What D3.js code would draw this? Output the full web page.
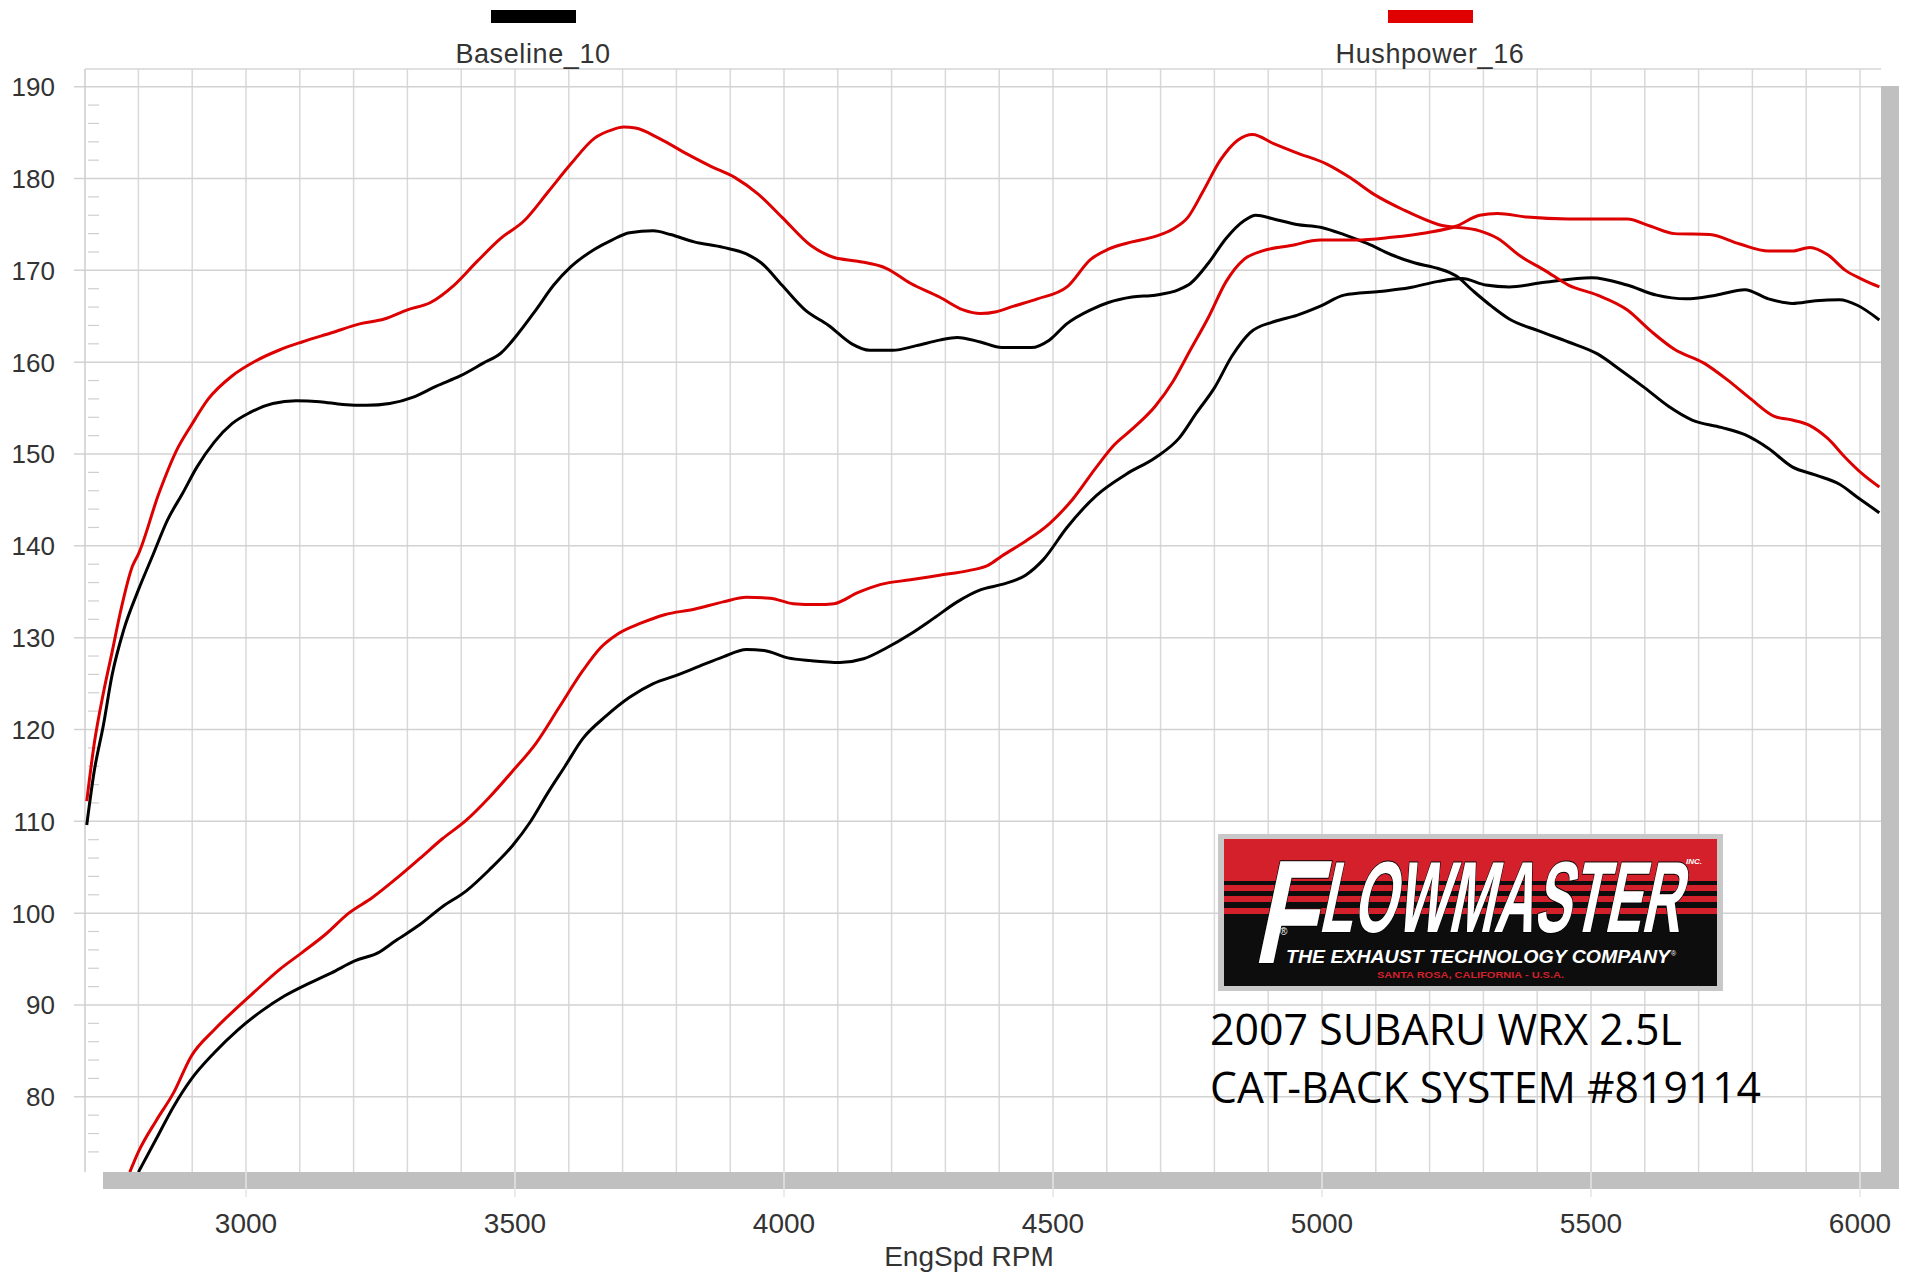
<!DOCTYPE html>
<html>
<head>
<meta charset="utf-8">
<script src="https://cdn.jsdelivr.net/npm/d3@7"></script>
<style>
  body { margin: 0; background: #fff; }
  text { font-family: "Liberation Sans", Arial, sans-serif; }
</style>
</head>
<body>
<div id="chart"></div>
<script>
// dyno sheet values [rpm, value]
var baselineTq = [[2704,109.6],[2718,115.5],[2735,120.5],[2751,125.9],[2773,130.9],[2800,135.2],[2827,139.0],[2854,142.8],[2882,145.7],[2909,148.6],[2941,151.3],[2974,153.3],[3007,154.5],[3050,155.5],[3093,155.8],[3137,155.7],[3180,155.4],[3224,155.3],[3267,155.5],[3311,156.2],[3354,157.4],[3398,158.5],[3441,159.9],[3474,161.0],[3507,163.2],[3539,165.7],[3572,168.4],[3604,170.4],[3648,172.3],[3680,173.3],[3713,174.1],[3757,174.3],[3789,173.9],[3833,173.1],[3887,172.5],[3930,171.8],[3958,170.8],[3996,168.4],[4039,165.7],[4083,164.0],[4126,162.0],[4159,161.3],[4202,161.3],[4246,161.8],[4289,162.4],[4322,162.7],[4365,162.2],[4405,161.6],[4460,161.6],[4493,162.4],[4526,164.2],[4570,165.7],[4603,166.5],[4647,167.1],[4690,167.3],[4734,167.9],[4756,168.6],[4789,170.8],[4822,173.5],[4855,175.4],[4877,176.0],[4910,175.6],[4953,175.0],[4997,174.7],[5041,173.9],[5085,172.9],[5129,171.7],[5173,170.8],[5216,170.2],[5249,169.4],[5282,167.7],[5315,166.1],[5348,164.7],[5403,163.4],[5458,162.2],[5512,160.9],[5556,159.1],[5600,157.2],[5644,155.2],[5688,153.7],[5742,152.9],[5786,152.1],[5830,150.6],[5874,148.6],[5918,147.7],[5962,146.7],[5995,145.3],[6036,143.6]];

var hushTq = [[2704,112.2],[2718,118.5],[2735,124.0],[2751,128.4],[2767,132.9],[2789,137.8],[2800,139.1],[2838,145.7],[2871,150.4],[2898,153.1],[2930,156.0],[2974,158.5],[3017,160.1],[3061,161.3],[3104,162.2],[3159,163.2],[3213,164.2],[3257,164.7],[3300,165.7],[3343,166.5],[3387,168.4],[3430,171.0],[3474,173.5],[3517,175.4],[3561,178.5],[3604,181.6],[3648,184.4],[3680,185.3],[3702,185.6],[3724,185.5],[3767,184.4],[3822,182.6],[3865,181.3],[3909,180.1],[3952,178.3],[3996,175.8],[4050,172.7],[4093,171.4],[4137,171.0],[4191,170.2],[4235,168.6],[4289,167.1],[4333,165.7],[4365,165.3],[4395,165.5],[4427,166.1],[4471,166.9],[4526,168.2],[4570,171.2],[4603,172.3],[4647,173.1],[4690,173.7],[4723,174.5],[4751,175.8],[4778,178.5],[4811,182.0],[4844,184.2],[4871,184.8],[4910,183.8],[4953,182.8],[5008,181.6],[5052,180.1],[5096,178.3],[5151,176.6],[5216,175.0],[5293,174.3],[5326,173.5],[5370,171.5],[5414,170.0],[5458,168.4],[5512,167.3],[5567,165.7],[5611,163.4],[5655,161.4],[5710,159.9],[5753,158.1],[5797,156.0],[5841,154.1],[5874,153.7],[5907,153.1],[5940,151.7],[5973,149.6],[6005,147.8],[6036,146.4]];

var baselineHp = [[2800,71.8],[2833,75.4],[2865,78.9],[2898,81.9],[2941,84.8],[2985,87.3],[3028,89.3],[3072,91.0],[3115,92.3],[3159,93.5],[3202,94.8],[3246,95.7],[3278,97.0],[3322,98.7],[3365,100.7],[3409,102.4],[3452,104.7],[3496,107.4],[3528,109.9],[3561,113.1],[3593,116.0],[3626,119.0],[3670,121.5],[3713,123.5],[3757,125.0],[3800,125.9],[3843,126.9],[3887,127.9],[3930,128.7],[3963,128.6],[4007,127.8],[4050,127.5],[4104,127.3],[4148,127.7],[4191,128.9],[4235,130.4],[4278,132.1],[4322,133.9],[4365,135.2],[4405,135.8],[4449,136.8],[4482,138.5],[4526,142.0],[4581,145.5],[4636,147.8],[4690,149.6],[4734,151.7],[4767,154.5],[4800,157.2],[4833,160.7],[4866,163.2],[4910,164.4],[4953,165.1],[4997,166.1],[5041,167.3],[5107,167.7],[5162,168.1],[5216,168.8],[5260,169.1],[5304,168.4],[5348,168.2],[5414,168.7],[5501,169.2],[5567,168.4],[5622,167.3],[5677,166.9],[5732,167.3],[5786,167.9],[5830,166.9],[5874,166.4],[5918,166.7],[5962,166.8],[5995,166.2],[6036,164.6]];

var hushHp = [[2784,71.8],[2800,74.0],[2833,77.4],[2865,80.4],[2898,84.4],[2941,87.3],[2985,89.8],[3017,91.5],[3061,93.8],[3104,95.7],[3148,97.7],[3191,100.0],[3235,101.7],[3278,103.7],[3322,105.9],[3365,108.1],[3409,110.1],[3452,112.6],[3496,115.5],[3539,118.5],[3583,122.5],[3626,126.4],[3659,128.9],[3691,130.4],[3735,131.6],[3778,132.5],[3833,133.1],[3887,133.9],[3930,134.4],[3974,134.3],[4017,133.7],[4061,133.6],[4093,133.7],[4137,134.9],[4180,135.8],[4235,136.3],[4289,136.8],[4343,137.3],[4380,137.9],[4405,138.9],[4449,140.5],[4493,142.4],[4537,145.1],[4581,148.6],[4614,151.0],[4647,152.7],[4690,155.2],[4723,157.9],[4756,161.4],[4789,164.9],[4822,168.8],[4855,171.2],[4888,172.1],[4942,172.7],[4997,173.3],[5063,173.3],[5129,173.6],[5195,174.1],[5249,174.8],[5293,176.0],[5326,176.2],[5381,175.8],[5458,175.6],[5567,175.6],[5611,174.8],[5655,174.0],[5721,173.9],[5775,172.9],[5830,172.1],[5874,172.1],[5907,172.5],[5940,171.7],[5973,170.0],[6005,169.0],[6036,168.2]];

var legendNames = ["Baseline_10", "Hushpower_16"];
var xTickValues = [3000, 3500, 4000, 4500, 5000, 5500, 6000];
var yTickValues = [80, 90, 100, 110, 120, 130, 140, 150, 160, 170, 180, 190];
var subtitleLines = ["2007 SUBARU WRX 2.5L", "CAT-BACK SYSTEM #819114"];

var W = 1906, H = 1274;
var plotL = 85, plotT = 69, plotR = 1881, plotB = 1172;
var shadowDx = 18, shadowDy = 17;

var svg = d3.select("#chart")
  .append("svg")
  .attr("width", W)
  .attr("height", H)
  .style("display", "block");

svg.append("rect").attr("width", W).attr("height", H).attr("fill", "#fff");

var x = d3.scaleLinear().domain([3000, 6000]).range([246, 1860]);
var y = d3.scaleLinear().domain([80, 190]).range([1096.8, 86.7]);

// grey drop shadow behind the plot box
svg.append("rect")
  .attr("x", plotL + shadowDx).attr("y", plotT + shadowDy)
  .attr("width", plotR - plotL).attr("height", plotB - plotT)
  .attr("fill", "#c0c0c0");
svg.append("rect")
  .attr("x", plotL).attr("y", plotT)
  .attr("width", plotR - plotL).attr("height", plotB - plotT)
  .attr("fill", "#fff");

// vertical grid every 100 rpm
var vGrid = d3.range(2800, 6001, 100);
svg.append("g").selectAll("line")
  .data(vGrid)
  .enter()
  .append("line")
  .attr("x1", function(d){ return x(d); })
  .attr("x2", function(d){ return x(d); })
  .attr("y1", plotT)
  .attr("y2", plotB)
  .attr("stroke", "#d9d9d9")
  .attr("stroke-width", 1.5);

// major rpm lines run through the shadow bar
svg.append("g").selectAll("line")
  .data(xTickValues)
  .enter()
  .append("line")
  .attr("x1", function(d){ return x(d); })
  .attr("x2", function(d){ return x(d); })
  .attr("y1", plotB)
  .attr("y2", plotB + shadowDy + 8)
  .attr("stroke", "#e4e4e4")
  .attr("stroke-width", 1.5);

// horizontal grid
svg.append("g").selectAll("line")
  .data(yTickValues)
  .enter()
  .append("line")
  .attr("x1", 74)
  .attr("x2", plotR)
  .attr("y1", function(d){ return y(d); })
  .attr("y2", function(d){ return y(d); })
  .attr("stroke", "#d2d2d2")
  .attr("stroke-width", 1.5);

// minor ticks on the left
var minor = d3.range(74, 190, 2).filter(function(d){ return d % 10 != 0; });
svg.append("g").selectAll("line")
  .data(minor)
  .enter()
  .append("line")
  .attr("x1", plotL + 3)
  .attr("x2", plotL + 14)
  .attr("y1", function(d){ return y(d); })
  .attr("y2", function(d){ return y(d); })
  .attr("stroke", "#cfcfcf")
  .attr("stroke-width", 1.2);

// box edges
svg.append("line").attr("x1", plotL).attr("x2", plotL).attr("y1", plotT).attr("y2", plotB)
  .attr("stroke", "#cccccc").attr("stroke-width", 1.5);
svg.append("line").attr("x1", plotL).attr("x2", plotR).attr("y1", plotT).attr("y2", plotT)
  .attr("stroke", "#d6d6d6").attr("stroke-width", 1.5);

// tick labels
svg.append("g").selectAll("text")
  .data(yTickValues)
  .enter()
  .append("text")
  .attr("x", 55)
  .attr("y", function(d){ return y(d); })
  .attr("dy", "0.36em")
  .attr("text-anchor", "end")
  .style("font-size", "26px")
  .attr("fill", "#333")
  .text(function(d){ return d; });

svg.append("g").selectAll("text")
  .data(xTickValues)
  .enter()
  .append("text")
  .attr("x", function(d){ return x(d); })
  .attr("y", 1233)
  .attr("text-anchor", "middle")
  .style("font-size", "28px")
  .attr("fill", "#333")
  .text(function(d){ return d; });

svg.append("text")
  .attr("x", 969)
  .attr("y", 1266)
  .attr("text-anchor", "middle")
  .style("font-size", "28px")
  .attr("fill", "#333")
  .text("EngSpd RPM");

// legend swatches on top
var legendX = [533, 1430];
var colors = ["#000000", "#e00000"];
svg.append("g").selectAll("rect")
  .data(legendNames)
  .enter()
  .append("rect")
  .attr("x", function(d, i){ return legendX[i] - 42; })
  .attr("y", 10)
  .attr("width", 85)
  .attr("height", 13)
  .attr("fill", function(d, i){ return colors[i]; });
svg.append("g").selectAll("text")
  .data(legendNames)
  .enter()
  .append("text")
  .attr("x", function(d, i){ return legendX[i]; })
  .attr("y", 63)
  .attr("text-anchor", "middle")
  .style("font-size", "27px")
  .style("letter-spacing", "0.6px")
  .attr("fill", "#333")
  .text(function(d){ return d; });

// curves
svg.append("clipPath").attr("id", "plotclip")
  .append("rect").attr("x", plotL).attr("y", plotT)
  .attr("width", plotR - plotL).attr("height", plotB - plotT);

var line = d3.line()
  .x(function(d){ return x(d[0]); })
  .y(function(d){ return y(d[1]); })
  .curve(d3.curveMonotoneX);

var curves = [
  { data: baselineHp, color: "#000" },
  { data: baselineTq, color: "#000" },
  { data: hushHp, color: "#dd0000" },
  { data: hushTq, color: "#dd0000" }
];
svg.append("g")
  .attr("clip-path", "url(#plotclip)")
  .selectAll("path")
  .data(curves)
  .enter()
  .append("path")
  .attr("d", function(d){ return line(d.data); })
  .attr("fill", "none")
  .attr("stroke", function(d){ return d.color; })
  .attr("stroke-width", 3)
  .attr("stroke-linejoin", "round");

// Flowmaster badge
var logo = svg.append("g");
logo.append("rect").attr("x", 1218).attr("y", 834).attr("width", 505).attr("height", 157)
  .attr("fill", "#c8c8c8");
logo.append("rect").attr("x", 1224).attr("y", 839).attr("width", 493).attr("height", 147)
  .attr("fill", "#d3202b");
logo.append("rect").attr("x", 1224).attr("y", 914).attr("width", 493).attr("height", 72)
  .attr("fill", "#0d0d0d");
[[881, 4], [891, 5], [902, 6]].forEach(function(s){
  logo.append("rect").attr("x", 1224).attr("y", s[0]).attr("width", 493).attr("height", s[1])
    .attr("fill", "#0d0d0d");
});

var narrow = '"Liberation Sans Narrow", "Liberation Sans", Arial, sans-serif';
logo.append("g")
  .attr("transform", "translate(1252,963) skewX(-12)")
  .append("text")
  .style("font-family", narrow)
  .style("font-size", "148px").style("font-weight", "bold")
  .attr("textLength", 62).attr("lengthAdjust", "spacingAndGlyphs")
  .attr("fill", "#fff").attr("stroke", "#000").attr("stroke-width", 2)
  .style("paint-order", "stroke")
  .text("F");
logo.append("g")
  .attr("transform", "translate(1318,932) skewX(-12)")
  .append("text")
  .style("font-family", narrow)
  .style("font-size", "101px").style("font-weight", "bold")
  .attr("textLength", 362).attr("lengthAdjust", "spacingAndGlyphs")
  .attr("fill", "#fff").attr("stroke", "#000").attr("stroke-width", 2)
  .style("paint-order", "stroke")
  .text("LOWMASTER");
logo.append("text")
  .attr("x", 1686).attr("y", 864)
  .style("font-size", "8px").style("font-weight", "bold").style("font-style", "italic")
  .attr("fill", "#fff").text("INC.");
logo.append("text")
  .attr("x", 1280).attr("y", 935)
  .style("font-size", "10px")
  .attr("fill", "#fff").text("®");
logo.append("text")
  .attr("x", 1286).attr("y", 963)
  .style("font-size", "18px").style("font-weight", "bold").style("font-style", "italic")
  .attr("textLength", 384).attr("lengthAdjust", "spacingAndGlyphs")
  .attr("fill", "#fff").text("THE EXHAUST TECHNOLOGY COMPANY");
logo.append("text")
  .attr("x", 1671).attr("y", 956)
  .style("font-size", "7px")
  .attr("fill", "#fff").text("®");
logo.append("text")
  .attr("x", 1377).attr("y", 978)
  .style("font-size", "9px").style("font-weight", "bold")
  .attr("textLength", 187).attr("lengthAdjust", "spacingAndGlyphs")
  .attr("fill", "#d3202b").text("SANTA ROSA, CALIFORNIA - U.S.A.");

// vehicle caption
var captionW = [472, 551];
svg.append("g").selectAll("text")
  .data(subtitleLines)
  .enter()
  .append("text")
  .attr("x", 1210)
  .attr("y", function(d, i){ return 1045 + i * 58; })
  .style("font-family", '"Open Sans", "Noto Sans", sans-serif')
  .style("font-size", "44px")
  .attr("textLength", function(d, i){ return captionW[i]; })
  .attr("lengthAdjust", "spacingAndGlyphs")
  .attr("fill", "#000")
  .text(function(d){ return d; });
</script>
</body>
</html>
